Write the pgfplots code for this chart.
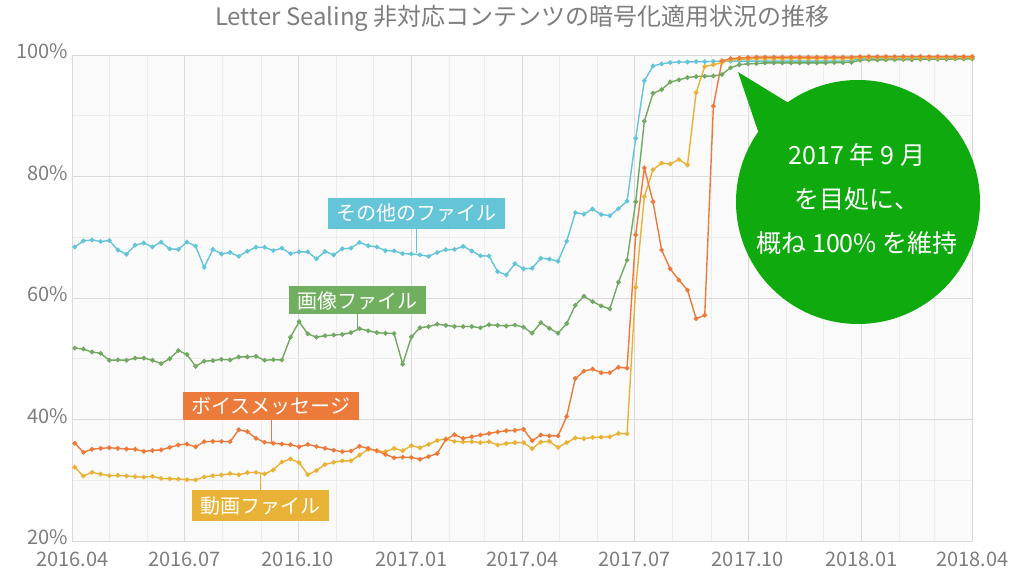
\documentclass[border=0pt]{standalone}
\usepackage{fontspec}
\setmainfont{Noto Sans CJK JP}
\usepackage{pgfplots}
\usepackage{pgfplotstable}
\pgfplotsset{compat=1.18}
\definecolor{ccyan}{RGB}{100,196,216}
\definecolor{cgreen}{RGB}{114,168,98}
\definecolor{cgreenbox}{RGB}{112,174,96}
\definecolor{corange}{RGB}{236,122,58}
\definecolor{cyellow}{RGB}{232,178,54}
\definecolor{cbubble}{RGB}{14,170,14}
\definecolor{cgridmaj}{RGB}{218,218,218}
\definecolor{cgridmin}{RGB}{236,236,236}
\definecolor{ctext}{RGB}{125,125,125}
\definecolor{cbg}{RGB}{250,250,250}

\pgfplotstableread{
day cyan green orange yellow
2 68.4 51.75 36.1 32.15
9 69.4 51.6 34.6 30.7
16 69.55 51.1 35.1 31.3
23 69.3 50.9 35.25 31.0
30 69.45 49.75 35.35 30.75
37 67.9 49.8 35.25 30.8
44 67.2 49.75 35.15 30.7
51 68.7 50.1 35.1 30.6
58 69.05 50.1 34.75 30.5
65 68.4 49.75 34.9 30.65
72 69.2 49.2 35.0 30.3
79 68.1 50.0 35.4 30.25
86 68.0 51.35 35.8 30.2
93 69.2 50.7 35.95 30.1
100 68.55 48.75 35.5 30.05
107 65.05 49.6 36.35 30.55
114 68.0 49.7 36.4 30.75
121 67.25 49.9 36.4 30.85
128 67.5 49.8 36.35 31.1
135 66.85 50.3 38.3 30.9
142 67.7 50.3 38.0 31.25
149 68.35 50.4 36.9 31.3
156 68.35 49.75 36.25 31.05
163 67.8 49.85 36.1 31.7
170 68.2 49.8 35.95 33.0
177 67.3 53.55 35.85 33.5
184 67.6 56.1 35.5 32.9
191 67.6 54.1 35.9 30.9
198 66.45 53.55 35.55 31.6
205 67.65 53.8 35.25 32.6
212 67.1 53.9 34.95 32.95
219 68.1 54.0 34.7 33.2
226 68.2 54.3 34.8 33.2
233 69.15 54.95 35.6 34.15
240 68.6 54.6 35.25 35.1
247 68.4 54.3 34.85 34.85
254 67.8 54.2 34.25 34.7
261 67.75 54.15 33.7 35.25
268 67.3 49.1 33.8 34.85
275 67.25 53.6 33.75 35.7
282 67.1 55.1 33.45 35.35
289 66.85 55.3 33.9 35.9
296 67.5 55.7 34.4 36.55
303 67.95 55.5 36.7 36.8
310 68.0 55.3 37.5 36.4
317 68.5 55.3 36.9 36.3
324 67.75 55.3 37.15 36.35
331 66.95 55.1 37.45 36.2
338 66.9 55.6 37.7 36.35
345 64.35 55.5 37.95 35.8
352 63.8 55.4 38.15 36.05
359 65.65 55.55 38.2 36.2
366 64.8 55.2 38.4 36.2
373 64.9 54.2 36.5 35.2
380 66.55 55.95 37.45 36.3
387 66.4 55.0 37.3 36.4
394 66.05 54.2 37.3 35.4
401 69.35 55.8 40.5 36.2
408 74.05 58.8 46.75 36.95
415 73.8 60.3 47.95 36.85
422 74.65 59.4 48.3 37.05
429 73.75 58.7 47.7 37.1
436 73.55 58.2 47.7 37.15
443 74.7 62.6 48.6 37.7
450 75.95 66.25 48.45 37.65
457 86.3 75.85 70.4 61.75
464 95.75 89.1 81.4 76.7
471 98.2 93.7 75.85 81.1
478 98.55 94.3 67.9 82.2
485 98.75 95.55 64.8 82.05
492 98.85 95.9 62.95 82.8
499 98.85 96.3 61.3 81.9
506 98.9 96.45 56.6 93.8
513 98.9 96.5 57.15 98.1
520 98.95 96.55 91.6 98.4
527 99.0 96.8 99.05 98.75
534 99.0 97.9 99.4 99.2
541 99.0 98.4 99.5 99.3
548 99.0 98.55 99.6 99.35
555 99.0 98.6 99.65 99.4
562 99.0 98.7 99.65 99.4
569 99.0 98.7 99.65 99.4
576 99.0 98.7 99.65 99.4
583 99.0 98.7 99.65 99.4
590 99.0 98.7 99.65 99.4
597 99.0 98.7 99.65 99.4
604 99.0 98.7 99.65 99.4
611 99.0 98.7 99.65 99.4
618 99.0 98.75 99.65 99.4
625 99.0 98.75 99.65 99.4
632 99.05 98.8 99.65 99.4
639 99.4 99.15 99.75 99.55
646 99.4 99.2 99.75 99.55
653 99.4 99.2 99.75 99.55
660 99.4 99.2 99.75 99.55
667 99.4 99.25 99.75 99.55
674 99.4 99.25 99.75 99.55
681 99.4 99.25 99.75 99.55
688 99.4 99.3 99.75 99.55
695 99.4 99.3 99.75 99.55
702 99.45 99.3 99.75 99.55
709 99.45 99.3 99.75 99.55
716 99.45 99.35 99.75 99.55
723 99.45 99.35 99.75 99.55
730 99.45 99.35 99.75 99.55
}\datatable

\begin{document}
\begin{tikzpicture}
% bounding box in pixel coordinates of the reference
\begin{scope}[x=1pt,y=-1pt,shift={(-72.3pt,541pt)}]
\useasboundingbox (0,0) rectangle (1029,570);
\end{scope}
\begin{axis}[
  at={(0pt,0pt)}, anchor=south west,
  scale only axis, width=900pt, height=486pt,
  xmin=0, xmax=730, ymin=20, ymax=100,
  axis background/.style={fill=cbg},
  axis line style={draw=cgridmaj, line width=0.8pt},
  xtick={0,91,183,275,365,456,548,640,730},
  xticklabels={2016.04,2016.07,2016.10,2017.01,2017.04,2017.07,2017.10,2018.01,2018.04},
  minor xtick={30,61,122,153,214,244,306,334,395,426,487,518,579,609,671,699},
  ytick={20,40,60,80,100},
  yticklabels={20\%,40\%,60\%,80\%,100\%},
  minor ytick={30,50,70,90},
  grid=both,
  major grid style={draw=cgridmaj, line width=0.8pt},
  minor grid style={draw=cgridmin, line width=0.8pt},
  major tick length=0pt, minor tick length=0pt,
  tick style={draw=none},
  ticklabel style={font=\fontsize{20}{24}\selectfont, text=ctext, inner sep=0pt},
  xticklabel style={anchor=base, yshift=-25.5pt},
  yticklabel style={anchor=east, xshift=-4pt, yshift=3.5pt},
  every axis plot/.append style={line width=1.4pt, mark=*, mark size=1.6pt},
]
\addplot[ccyan, mark options={fill=ccyan}] table[x=day,y=cyan]{\datatable};
\addplot[cgreen, mark options={fill=cgreen}] table[x=day,y=green]{\datatable};
\addplot[cyellow, mark options={fill=cyellow}] table[x=day,y=yellow]{\datatable};
\addplot[corange, mark options={fill=corange}] table[x=day,y=orange]{\datatable};
\end{axis}
\begin{scope}[x=1pt,y=-1pt,shift={(-72.3pt,541pt)}]
% title
\node[text=ctext, font=\fontsize{24}{28}\selectfont] at (522.5,18) {Letter Sealing 非対応コンテンツの暗号化適用状況の推移};
% series labels
\draw[ccyan, line width=1pt] (416.5,229) -- (416.5,253);
\node[fill=ccyan, text=white, font=\fontsize{20}{24}\selectfont, inner xsep=8.5pt, inner ysep=0pt, minimum height=31pt] at (416.7,213.2) {その他のファイル};
\draw[cgreen, line width=1pt] (357.7,314) -- (357.7,329);
\node[fill=cgreenbox, text=white, font=\fontsize{20}{24}\selectfont, inner xsep=8.5pt, inner ysep=0pt, minimum height=28pt] at (357.7,300.5) {画像ファイル};
\draw[corange, line width=1pt] (271,420) -- (271,442);
\node[fill=corange, text=white, font=\fontsize{20}{24}\selectfont, inner xsep=8.5pt, inner ysep=0pt, minimum height=28pt] at (270.9,405.9) {ボイスメッセージ};
\draw[cyellow, line width=1pt] (260,473) -- (260,490);
\node[fill=cyellow, text=white, font=\fontsize{20}{24}\selectfont, inner xsep=8.5pt, inner ysep=0pt, minimum height=31pt] at (260,505.8) {動画ファイル};
% callout bubble
\fill[cbubble] (858,202) circle[radius=122pt];
\fill[cbubble] (738,72) -- (800,110) -- (763,146) -- cycle;
\node[text=white, font=\fontsize{25}{30}\selectfont] at (857,155) {2017 年 9 月};
\node[text=white, font=\fontsize{25}{30}\selectfont] at (857,199) {を目処に、};
\node[text=white, font=\fontsize{25}{30}\selectfont] at (857,243) {概ね 100\% を維持};
\end{scope}
\end{tikzpicture}
\end{document}
